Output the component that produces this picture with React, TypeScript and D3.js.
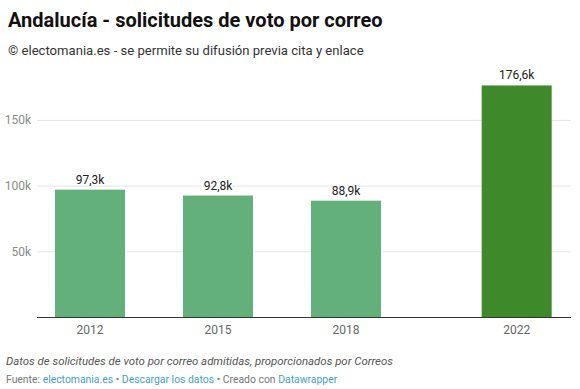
import React from "react";
import * as d3 from "d3";

const years = [2012, 2015, 2018, 2022];
const values = [97.3, 92.8, 88.9, 176.6];
const labels = ["97,3k", "92,8k", "88,9k", "176,6k"];
const colors = ["#63b07a", "#63b07a", "#63b07a", "#3e8a2a"];
const yTicks = [50, 100, 150];
const yTickLabels = ["50k", "100k", "150k"];

const W = 580, H = 389;
const font = "Roboto, 'Noto Sans', Arial, sans-serif";

export default function App() {
  const y = d3.scaleLinear().domain([0, 150]).range([317.5, 120.4]);
  const x = d3.scaleLinear().domain([2012, 2018]).range([90, 346]);
  const bw = 70;
  return (
    <svg width={W} height={H} style={{ position: "absolute", left: 0, top: 0, fontFamily: font }}>
      <rect width={W} height={H} fill="#fff" />
      <text x={8} y={27} fontSize={20} fontWeight={700} fill="#111">Andalucía - solicitudes de voto por correo</text>
      <text x={8} y={55} fontSize={13.1} fill="#333">© electomania.es - se permite su difusión previa cita y enlace</text>
      {yTicks.map((t, i) => (
        <g key={t}>
          <line x1={37} x2={571} y1={y(t)} y2={y(t)} stroke="#e6e6e6" strokeWidth={1} />
          <text x={31} y={y(t) + 4} fontSize={12} fill="#8a8a8a" textAnchor="end">{yTickLabels[i]}</text>
        </g>
      ))}
      {years.map((yr, i) => (
        <g key={yr}>
          <rect x={x(yr) - bw / 2} y={y(values[i])} width={bw} height={y(0) - y(values[i])} fill={colors[i]} />
          <text x={x(yr)} y={y(values[i]) - 6} fontSize={12} fill="#222" textAnchor="middle">{labels[i]}</text>
          <text x={x(yr)} y={334} fontSize={12} fill="#666" textAnchor="middle">{yr}</text>
        </g>
      ))}
      <line x1={37} x2={571} y1={y(0)} y2={y(0)} stroke="#333" strokeWidth={1} />
      <text x={6} y={365} fontSize={11.4} fontStyle="italic" fill="#555">Datos de solicitudes de voto por correo admitidas, proporcionados por Correos</text>
      <text x={6} y={383} fontSize={10.4} fill="#777">
        Fuente: <tspan fill="#3f9fcc">electomania.es</tspan> • <tspan fill="#3f9fcc">Descargar los datos</tspan> • Creado con <tspan fill="#3f9fcc">Datawrapper</tspan>
      </text>
    </svg>
  );
}
